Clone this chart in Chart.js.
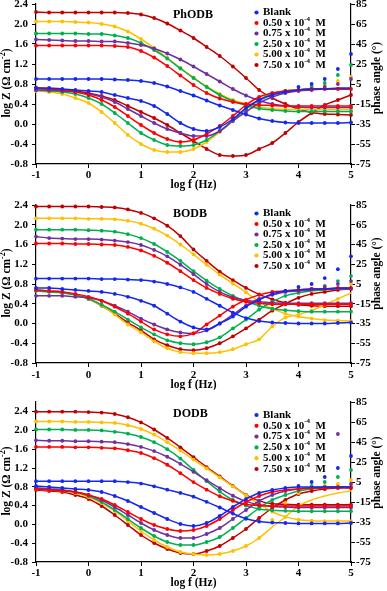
<!DOCTYPE html>
<html>
<head>
<meta charset="utf-8">
<script src="https://cdn.jsdelivr.net/npm/chart.js@4.4.0/dist/chart.umd.min.js"></script>
<style>
  html, body { margin: 0; padding: 0; background: #fff; }
  #wrap { position: relative; width: 387px; height: 591px; overflow: hidden; }
  canvas { position: absolute; left: 0; }
</style>
</head>
<body>
<div id="wrap">
  <canvas id="c1" width="387" height="195" style="top:0px"></canvas>
  <canvas id="c2" width="387" height="195" style="top:195px"></canvas>
  <canvas id="c3" width="387" height="201" style="top:390px"></canvas>
</div>
<script>
// log f (Hz) sampling used for every curve
const logF = [-1, -0.75, -0.5, -0.25, 0, 0.25, 0.5, 0.75, 1, 1.25, 1.5, 1.75, 2, 2.25, 2.5, 2.75, 3, 3.25, 3.5, 3.75, 4, 4.25, 4.5, 4.75, 5];
// high-frequency part where the fitted phase line leaves the measured dots
const tailF = [3.5, 3.75, 4, 4.25, 4.5, 4.75, 5];

const concLabels = ["Blank", "0.50", "0.75", "2.50", "5.00", "7.50"];
const seriesColors = ["#1428f0", "#ff0000", "#7030a0", "#00b050", "#ffc000", "#c00000"];

const freqTicks = [-1, 0, 1, 2, 3, 4, 5];
const logZTicks = [-0.8, -0.4, 0.0, 0.4, 0.8, 1.2, 1.6, 2.0, 2.4];
const phaseTicks = [-75, -55, -35, -15, 5, 25, 45, 65, 85];

// ---- PhODB ----
const phodbLogZ = [
    [0.90,0.90,0.90,0.90,0.90,0.90,0.89,0.88,0.86,0.82,0.75,0.66,0.57,0.47,0.37,0.28,0.19,0.11,0.06,0.03,0.02,0.02,0.02,0.02,0.03],
    [1.57,1.57,1.57,1.57,1.57,1.57,1.56,1.54,1.46,1.33,1.16,0.97,0.78,0.62,0.51,0.44,0.40,0.38,0.37,0.36,0.36,0.36,0.36,0.36,0.36],
    [1.69,1.68,1.67,1.66,1.66,1.65,1.65,1.62,1.58,1.51,1.41,1.29,1.15,1.00,0.85,0.70,0.57,0.47,0.40,0.36,0.34,0.33,0.33,0.33,0.33],
    [1.81,1.81,1.81,1.81,1.80,1.80,1.77,1.72,1.62,1.48,1.31,1.11,0.92,0.74,0.58,0.46,0.37,0.31,0.28,0.26,0.25,0.25,0.25,0.25,0.25],
    [2.05,2.05,2.05,2.04,2.03,2.00,1.95,1.85,1.70,1.52,1.32,1.12,0.93,0.75,0.60,0.48,0.40,0.34,0.31,0.29,0.29,0.29,0.29,0.29,0.29],
    [2.24,2.23,2.23,2.23,2.23,2.23,2.23,2.22,2.19,2.12,2.01,1.87,1.72,1.54,1.36,1.15,0.92,0.68,0.52,0.40,0.30,0.23,0.20,0.19,0.18]
];
const phodbPhase = [
    [1,1,0,-1,-2,-3,-6,-9,-12,-17,-25,-34,-40,-42,-38,-30,-19,-11,-6,-3,2,5,10,20,35],
    [1,0,-1,-3,-6,-11,-18,-27,-36,-44,-50,-53,-51,-45,-37,-27,-16,-8,-4,-2,-1,0,0,0,0],
    [-1,-1,-2,-3,-5,-8,-13,-20,-27,-34,-40,-44,-47,-47,-42,-32,-23,-14,-8,-4,-2,-1,2,5,10],
    [-1,-2,-3,-5,-9,-15,-24,-34,-44,-51,-56,-57,-56,-51,-42,-31,-20,-11,-5,-2,-1,2,6,14,24],
    [-2,-3,-5,-9,-14,-23,-34,-46,-55,-61,-63,-63,-60,-53,-43,-32,-20,-11,-5,-2,-1,1,4,8,12],
    [1,0,-1,-2,-4,-7,-11,-17,-23,-29,-36,-44,-52,-60,-66,-67,-66,-60,-54,-44,-33,-24,-16,-11,-6]
];
const phodbPhaseFitTail = [
    [-6,-3,-1,0,0,1,1],
    null,
    [-8,-4,-2,-1,0,0,0],
    [-5,-2,-1,0,0,0,0],
    [-5,-2,-1,0,0,0,0],
    null
];

// ---- BODB ----
const bodbLogZ = [
    [0.91,0.91,0.91,0.91,0.91,0.90,0.90,0.89,0.88,0.85,0.80,0.73,0.64,0.50,0.36,0.22,0.11,0.05,0.02,0.01,0.00,0.00,0.00,0.01,0.02],
    [1.62,1.62,1.62,1.61,1.61,1.60,1.59,1.55,1.48,1.37,1.23,1.06,0.88,0.72,0.60,0.50,0.44,0.41,0.39,0.39,0.39,0.39,0.39,0.39,0.39],
    [1.76,1.73,1.72,1.71,1.71,1.70,1.68,1.65,1.59,1.49,1.36,1.19,1.00,0.80,0.64,0.53,0.47,0.44,0.42,0.41,0.41,0.41,0.41,0.41,0.41],
    [1.90,1.90,1.90,1.90,1.89,1.88,1.86,1.81,1.73,1.61,1.45,1.27,1.06,0.87,0.70,0.56,0.45,0.36,0.30,0.27,0.25,0.24,0.24,0.24,0.24],
    [2.13,2.13,2.13,2.13,2.12,2.12,2.11,2.08,2.02,1.92,1.78,1.60,1.40,1.19,0.99,0.81,0.63,0.44,0.30,0.20,0.14,0.10,0.07,0.06,0.05],
    [2.37,2.37,2.37,2.37,2.37,2.36,2.35,2.31,2.24,2.13,1.98,1.77,1.50,1.27,1.05,0.88,0.72,0.59,0.49,0.42,0.38,0.36,0.35,0.35,0.35]
];
const bodbPhase = [
    [1,1,0,-1,-2,-3,-5,-8,-12,-17,-25,-33,-39,-41,-35,-28,-18,-11,-5,-2,2,5,11,20,33],
    [-1,-2,-3,-5,-8,-12,-18,-25,-33,-41,-46,-48,-45,-36,-27,-18,-11,-6,-3,-2,-1,0,0,1,1],
    [-7,-7,-7,-8,-9,-12,-17,-23,-30,-36,-41,-44,-45,-42,-35,-26,-17,-10,-6,-3,-2,0,2,5,8],
    [-2,-3,-4,-6,-10,-16,-23,-31,-39,-46,-52,-55,-56,-54,-49,-40,-31,-21,-13,-7,-4,0,3,8,13],
    [-1,-2,-3,-6,-10,-17,-26,-36,-44,-53,-60,-64,-65,-65,-64,-61,-56,-51,-38,-29,-26,-22,-16,-10,5],
    [-1,-2,-3,-6,-10,-17,-25,-34,-42,-51,-57,-61,-62,-60,-55,-48,-40,-31,-22,-15,-9,-5,-3,-1,0]
];
const bodbPhaseFitTail = [
    [-5,-2,-1,0,0,1,1],
    null,
    [-6,-3,-2,-1,0,0,0],
    [-13,-7,-4,-2,-1,0,0],
    [-38,-29,-26,-22,-16,-10,-4],
    null
];

// ---- DODB ----
const dodbLogZ = [
    [0.92,0.92,0.92,0.92,0.92,0.92,0.92,0.90,0.87,0.81,0.74,0.67,0.59,0.48,0.36,0.23,0.12,0.06,0.04,0.03,0.02,0.02,0.02,0.02,0.03],
    [1.65,1.65,1.65,1.64,1.64,1.63,1.62,1.58,1.52,1.41,1.27,1.09,0.90,0.74,0.60,0.50,0.43,0.40,0.39,0.39,0.39,0.39,0.39,0.39,0.39],
    [1.79,1.78,1.78,1.77,1.77,1.76,1.75,1.71,1.65,1.56,1.44,1.29,1.12,0.94,0.77,0.61,0.49,0.42,0.38,0.37,0.36,0.36,0.36,0.36,0.36],
    [2.02,2.02,2.02,2.01,2.01,2.00,1.97,1.93,1.86,1.75,1.60,1.40,1.16,0.92,0.70,0.52,0.40,0.33,0.30,0.29,0.28,0.28,0.28,0.28,0.28],
    [2.19,2.19,2.19,2.18,2.18,2.17,2.16,2.11,2.03,1.91,1.75,1.57,1.38,1.19,1.00,0.81,0.62,0.43,0.27,0.16,0.10,0.08,0.07,0.07,0.07],
    [2.40,2.40,2.40,2.40,2.39,2.38,2.35,2.28,2.17,2.02,1.84,1.64,1.43,1.22,1.02,0.82,0.63,0.50,0.44,0.43,0.42,0.42,0.42,0.42,0.42]
];
const dodbPhase = [
    [1,0,-1,-2,-3,-5,-9,-14,-20,-26,-32,-37,-39,-36,-29,-20,-12,-6,-3,-1,1,5,10,19,31],
    [-2,-3,-4,-5,-8,-12,-18,-25,-32,-38,-42,-44,-43,-39,-32,-23,-15,-9,-5,-3,-2,-1,-1,0,0],
    [-1,-2,-3,-5,-8,-13,-20,-28,-36,-43,-48,-51,-51,-47,-41,-32,-23,-14,-8,-4,-2,-1,0,53,3],
    [-1,-2,-3,-5,-9,-15,-23,-32,-41,-49,-55,-58,-58,-55,-50,-41,-31,-21,-13,-8,-4,1,5,10,17],
    [-2,-3,-4,-6,-10,-16,-24,-34,-44,-53,-60,-65,-67,-68,-67,-64,-59,-51,-33,-16,-6,-1,1,3,7],
    [-3,-4,-5,-8,-12,-19,-28,-38,-48,-56,-62,-66,-67,-64,-59,-51,-42,-31,-21,-13,-7,-4,-2,-1,-1]
];
const dodbPhaseFitTail = [
    [-3,-1,0,0,0,0,0],
    null,
    [-8,-4,-2,-1,0,0,0],
    [-13,-8,-4,-2,-1,0,0],
    [-40,-30,-19,-13,-9,-6,-4],
    null
];

const FONT = '"Liberation Serif", "Times New Roman", serif';

const panels = [
    { id: "c1", name: "PhODB", logZ: phodbLogZ, phase: phodbPhase, fitTail: phodbPhaseFitTail,
      top: 4, bottomSpace: 31, yMax: 2.4, nameY: 15, legendY: 12.5, legendDy: 10.5,
      xLabelDy: 11.5, xTitleDy: 21.5, rightTitleY: 78 },
    { id: "c2", name: "BODB", logZ: bodbLogZ, phase: bodbPhase, fitTail: bodbPhaseFitTail,
      top: 10, bottomSpace: 27, yMax: 2.4, nameY: 18.5, legendY: 18.5, legendDy: 10.5,
      xLabelDy: 12.5, xTitleDy: 22.5, rightTitleY: 78.5 },
    { id: "c3", name: "DODB", logZ: dodbLogZ, phase: dodbPhase, fitTail: dodbPhaseFitTail,
      top: 12, bottomSpace: 29, yMax: 2.605, nameY: 24, legendY: 25, legendDy: 10.8,
      xLabelDy: 11, xTitleDy: 21.5, rightTitleY: 82.5 }
];

// draw text made of normal / superscript pieces, left aligned, returns width
function drawParts(ctx, parts, x, y, size, measureOnly) {
    let cx = x;
    parts.forEach(([t, sup]) => {
        const s = sup ? Math.round(size * 0.68) : size;
        ctx.font = `bold ${s}px ${FONT}`;
        if (!measureOnly) ctx.fillText(t, cx, sup ? y - size * 0.38 : y);
        cx += ctx.measureText(t).width;
    });
    return cx - x;
}

function makeTextPlugin(p) {
    return {
        id: "panelText" + p.id,
        afterDraw(chart) {
            const { ctx, chartArea: a, scales } = chart;
            ctx.save();
            ctx.fillStyle = "#000";
            ctx.textBaseline = "middle";

            // tick labels
            ctx.font = `bold 11px ${FONT}`;
            ctx.textAlign = "right";
            logZTicks.forEach(v => ctx.fillText(v.toFixed(1), a.left - 8, scales.y.getPixelForValue(v)));
            ctx.textAlign = "left";
            phaseTicks.forEach(v => ctx.fillText(String(v), a.right + 5, scales.y1.getPixelForValue(v)));
            ctx.textAlign = "center";
            freqTicks.forEach(v => ctx.fillText(String(v), scales.x.getPixelForValue(v), a.bottom + p.xLabelDy));

            // x title
            ctx.font = `bold 11.5px ${FONT}`;
            ctx.fillText("log f (Hz)", scales.x.getPixelForValue(2), a.bottom + p.xTitleDy);

            // left title, rotated
            ctx.textAlign = "left";
            const leftParts = [["log Z (\u03A9 cm", false], ["-2", true], [")", false]];
            const lw = drawParts(ctx, leftParts, 0, 0, 11.5, true);
            ctx.save();
            ctx.translate(7, (a.top + a.bottom) / 2 - 1);
            ctx.rotate(-Math.PI / 2);
            drawParts(ctx, leftParts, -lw / 2, 0, 11.5, false);
            ctx.restore();

            // right title, rotated
            ctx.save();
            ctx.font = `bold 11.5px ${FONT}`;
            ctx.translate(377, p.rightTitleY);
            ctx.rotate(-Math.PI / 2);
            ctx.textAlign = "center";
            ctx.fillText("phase angle (\u00B0)", 0, 0);
            ctx.restore();

            // panel name
            ctx.textAlign = "left";
            ctx.font = `bold 12px ${FONT}`;
            ctx.fillText(p.name, 173, p.nameY);

            // legend
            concLabels.forEach((lab, i) => {
                const y = p.legendY + i * p.legendDy;
                ctx.fillStyle = seriesColors[i];
                ctx.beginPath();
                ctx.arc(256.5, y, 2.1, 0, Math.PI * 2);
                ctx.fill();
                ctx.fillStyle = "#000";
                const parts = i === 0 ? [["Blank", false]]
                    : [[lab + " x 10", false], ["-4", true], ["  M", false]];
                drawParts(ctx, parts, 263, y, 11, false);
            });
            ctx.restore();
        }
    };
}

function lineSet(points, color, axis) {
    return {
        data: points, yAxisID: axis, showLine: true, borderColor: color, borderWidth: 1.5,
        pointRadius: 0, cubicInterpolationMode: "monotone", fill: false
    };
}

function dotSet(points, color, axis) {
    return {
        data: points, yAxisID: axis, showLine: false, pointRadius: 1.9,
        pointBackgroundColor: color, pointBorderWidth: 0, clip: 6
    };
}

function makePanel(p) {
    const datasets = [];
    seriesColors.forEach((color, i) => {
        const zPts = logF.map((f, k) => ({ x: f, y: p.logZ[i][k] }));
        const phPts = logF.map((f, k) => ({ x: f, y: p.phase[i][k] }));
        let phFit = phPts;
        if (p.fitTail[i]) {
            phFit = phPts.filter(pt => pt.x < tailF[0])
                .concat(tailF.map((f, k) => ({ x: f, y: p.fitTail[i][k] })));
        }
        datasets.push(lineSet(zPts, color, "y"), lineSet(phFit, color, "y1"));
        datasets.push(dotSet(zPts, color, "y"), dotSet(phPts, color, "y1"));
    });

    const axisCommon = {
        type: "linear",
        ticks: { display: false },
        grid: { drawOnChartArea: false, drawTicks: true, tickLength: 4, color: "#000", lineWidth: 1 },
        border: { display: true, color: "#000", width: 1.2 }
    };

    new Chart(document.getElementById(p.id), {
        type: "scatter",
        data: { datasets },
        options: {
            responsive: false,
            animation: false,
            devicePixelRatio: 1,
            events: [],
            layout: { padding: { top: p.top, left: 0, right: 0, bottom: 0 } },
            plugins: { legend: { display: false }, tooltip: { enabled: false } },
            scales: {
                x: {
                    ...axisCommon, position: "bottom", min: -1, max: 5,
                    afterBuildTicks: s => { s.ticks = freqTicks.map(v => ({ value: v })); },
                    afterFit: s => { s.height = p.bottomSpace; }
                },
                y: {
                    ...axisCommon, position: "left", min: -0.8, max: p.yMax,
                    afterBuildTicks: s => { s.ticks = logZTicks.map(v => ({ value: v })); },
                    afterFit: s => { s.width = 36; }
                },
                y1: {
                    ...axisCommon, position: "right", min: -75, max: 85,
                    afterBuildTicks: s => { s.ticks = phaseTicks.map(v => ({ value: v })); },
                    afterFit: s => { s.width = 36; }
                }
            }
        },
        plugins: [makeTextPlugin(p)]
    });
}

panels.forEach(makePanel);
</script>
</body>
</html>
